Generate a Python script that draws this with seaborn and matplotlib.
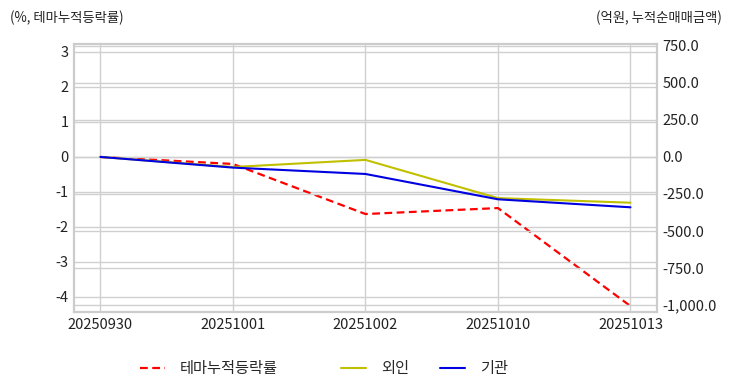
import seaborn as sns
import matplotlib.pyplot as plt
from matplotlib.ticker import FuncFormatter

dates = ['20250930', '20251001', '20251002', '20251010', '20251013']
theme_rate = [0.0, -0.2, -1.63, -1.46, -4.26]
foreign = [0.0, -68.0, -20.0, -278.0, -309.0]
institution = [0.0, -72.0, -115.0, -286.0, -340.0]

sns.set_style('whitegrid')
plt.rcParams['font.family'] = ['Noto Sans CJK KR', 'DejaVu Sans']
plt.rcParams['axes.unicode_minus'] = False

fig = plt.figure(figsize=(7.32, 3.92), dpi=100)
ax1 = fig.add_axes([0.101, 0.204, 0.7965, 0.684])
ax2 = ax1.twinx()

sns.lineplot(x=dates, y=theme_rate, ax=ax1, color='red', linestyle=(0, (3.5, 2)),
             linewidth=1.6, label='테마누적등락률', legend=False)
sns.lineplot(x=dates, y=foreign, ax=ax2, color='#c0c000', linewidth=1.5,
             label='외인', legend=False)
sns.lineplot(x=dates, y=institution, ax=ax2, color='#0000e0', linewidth=1.5,
             label='기관', legend=False)

ax1.set_xlim(-0.2, 4.2)
ax1.set_ylim(-4.43, 3.23)
ax1.set_yticks(range(-4, 4))
ax2.set_ylim(-1047, 763)
ax2.set_yticks([-1000, -750, -500, -250, 0, 250, 500, 750])
ax2.yaxis.set_major_formatter(FuncFormatter(lambda v, p: f'{v:,.1f}'))

for ax in (ax1, ax2):
    ax.grid(True, color='#d0d0d0', linewidth=1)
    ax.tick_params(length=0, labelsize=10.5, colors='#222222', pad=4)
    for s in ax.spines.values():
        s.set_color('#cccccc')
        s.set_linewidth(1.5)
ax2.grid(axis='x', visible=False)
ax1.set_xlabel('')

fig.text(0.014, 0.955, '(%, 테마누적등락률)', fontsize=9.6, color='#222222', va='center')
fig.text(0.986, 0.955, '(억원, 누적순매매금액)', fontsize=9.6, color='#222222',
         va='center', ha='right')

h1, l1 = ax1.get_legend_handles_labels()
h2, l2 = ax2.get_legend_handles_labels()
fig.legend(h1, l1, loc='center left', bbox_to_anchor=(0.172, 0.059),
           frameon=False, fontsize=11, handlelength=1.65, handletextpad=1.0)
fig.legend(h2, l2, loc='center left', bbox_to_anchor=(0.447, 0.059),
           ncol=2, frameon=False, fontsize=11, handlelength=1.65,
           handletextpad=1.0, columnspacing=2.0)

fig.savefig('out.png', dpi=100)
